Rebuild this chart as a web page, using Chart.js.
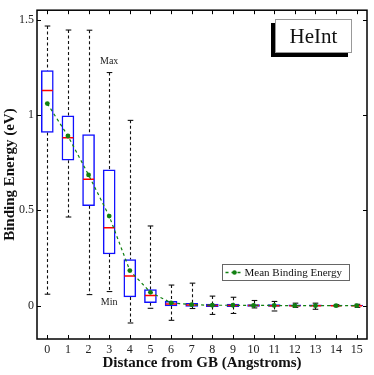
<!DOCTYPE html>
<html>
<head>
<meta charset="utf-8">
<script src="https://cdn.jsdelivr.net/npm/chart.js@4.4.1/dist/chart.umd.min.js"></script>
<style>
  body { margin: 0; background: #fff; }
  #wrap { position: relative; width: 374px; height: 375px; }
  #tag {
    position: absolute; left: 275px; top: 19px; width: 75px; height: 32px;
    border: 1px solid #999; background: #fff; box-shadow: -4px 4px 0 #000;
    font: 21px "Liberation Serif", serif; color: #111;
    display: flex; align-items: center; justify-content: center;
  }
</style>
</head>
<body>
<div id="wrap">
  <canvas id="chart" width="374" height="375"></canvas>
  <div id="tag">HeInt</div>
</div>
<script>
const distances = [0, 1, 2, 3, 4, 5, 6, 7, 8, 9, 10, 11, 12, 13, 14, 15];
const whiskerMax = [1.467, 1.446, 1.445, 1.223, 0.972, 0.418, 0.108, 0.118, 0.05, 0.044, 0.027, 0.022, 0.013, 0.013, 0.005, 0.007];
const whiskerMin = [0.06, 0.465, 0.058, 0.074, -0.091, -0.014, -0.077, -0.015, -0.046, -0.041, -0.012, -0.028, -0.009, -0.019, -0.005, -0.009];
const boxTop = [1.233, 0.996, 0.898, 0.713, 0.242, 0.084, 0.022, 0.012, 0.008, 0.008, 0.006, 0.006, 0.004, 0.004, 0.003, 0.003];
const boxBottom = [0.909, 0.763, 0.524, 0.271, 0.046, 0.015, -0.002, -0.004, -0.005, -0.005, -0.004, -0.004, -0.003, -0.003, -0.002, -0.002];
const medians = [1.129, 0.881, 0.663, 0.409, 0.156, 0.053, 0.008, 0.003, 0.001, 0.001, 0.001, 0, 0, 0, 0, 0];
const means = [1.06, 0.89, 0.686, 0.47, 0.184, 0.07, 0.015, 0.005, 0.002, 0.002, 0.001, 0.001, 0, 0, 0, 0];
const yTicks = [0, 0.5, 1, 1.5];
const annotatedIndex = 3;

const serif = '"Liberation Serif", "Times New Roman", serif';
const green = "#118011";

const boxPlotExtras = {
  id: "boxPlotExtras",
  beforeDatasetsDraw(chart) {
    const { ctx, scales: { x, y } } = chart;
    ctx.save();
    ctx.strokeStyle = "#111";
    ctx.lineWidth = 1.1;
    distances.forEach((d, i) => {
      const px = Math.round(x.getPixelForValue(d)) + 0.5;
      ctx.setLineDash([3, 2.5]);
      [[whiskerMax[i], boxTop[i]], [boxBottom[i], whiskerMin[i]]].forEach(([a, b]) => {
        ctx.beginPath();
        ctx.moveTo(px, y.getPixelForValue(a));
        ctx.lineTo(px, y.getPixelForValue(b));
        ctx.stroke();
      });
      ctx.setLineDash([]);
      [whiskerMax[i], whiskerMin[i]].forEach(v => {
        const py = y.getPixelForValue(v);
        ctx.beginPath();
        ctx.moveTo(px - 2.8, py);
        ctx.lineTo(px + 2.8, py);
        ctx.stroke();
      });
    });
    ctx.restore();
  },
  afterDraw(chart) {
    const { ctx, chartArea: a, scales: { x, y } } = chart;
    ctx.save();
    // frame
    ctx.strokeStyle = "#000";
    ctx.lineWidth = 1.5;
    ctx.strokeRect(a.left, a.top, a.right - a.left, a.bottom - a.top);
    // inward ticks
    ctx.lineWidth = 1;
    distances.forEach(d => {
      const px = Math.round(x.getPixelForValue(d)) + 0.5;
      ctx.beginPath();
      ctx.moveTo(px, a.bottom); ctx.lineTo(px, a.bottom - 4);
      ctx.moveTo(px, a.top); ctx.lineTo(px, a.top + 4);
      ctx.stroke();
    });
    yTicks.forEach(v => {
      const py = Math.round(y.getPixelForValue(v)) + 0.5;
      ctx.beginPath();
      ctx.moveTo(a.left, py); ctx.lineTo(a.left + 4, py);
      ctx.moveTo(a.right, py); ctx.lineTo(a.right - 4, py);
      ctx.stroke();
    });
    // Max / Min annotations
    const ax = x.getPixelForValue(distances[annotatedIndex]);
    ctx.fillStyle = "#222";
    ctx.font = "10px " + serif;
    ctx.textAlign = "center";
    ctx.textBaseline = "middle";
    ctx.fillText("Max", ax, y.getPixelForValue(whiskerMax[annotatedIndex]) - 11);
    ctx.fillText("Min", ax, y.getPixelForValue(whiskerMin[annotatedIndex]) + 11);
    // legend
    const lx = 222.5, ly = 264.5, lw = 127, lh = 16;
    ctx.fillStyle = "#fff";
    ctx.fillRect(lx, ly, lw, lh);
    ctx.strokeStyle = "#666";
    ctx.lineWidth = 1;
    ctx.strokeRect(lx, ly, lw, lh);
    const my = ly + lh / 2;
    ctx.strokeStyle = green;
    ctx.lineWidth = 1.3;
    ctx.setLineDash([3, 3]);
    ctx.beginPath();
    ctx.moveTo(lx + 3, my); ctx.lineTo(lx + 21, my);
    ctx.stroke();
    ctx.setLineDash([]);
    ctx.fillStyle = green;
    ctx.beginPath();
    ctx.arc(lx + 12, my, 2.3, 0, Math.PI * 2);
    ctx.fill();
    ctx.fillStyle = "#111";
    ctx.font = "11px " + serif;
    ctx.textAlign = "left";
    ctx.fillText(chart.data.datasets[2].label, lx + 22, my + 0.5);
    ctx.restore();
  }
};

new Chart(document.getElementById("chart"), {
  type: "bar",
  data: {
    datasets: [
      {
        label: "Quartiles",
        data: distances.map((d, i) => ({ x: d, y: [boxBottom[i], boxTop[i]] })),
        backgroundColor: "#fff",
        borderColor: "#1010ff",
        borderWidth: 1.5,
        borderSkipped: false,
        barThickness: 12,
        order: 3,
      },
      {
        type: "line",
        label: "Median",
        data: distances.map((d, i) => ({ x: d, y: medians[i] })),
        showLine: false,
        pointStyle: "line",
        pointRadius: 5.5,
        borderColor: "#ff0000",
        borderWidth: 1.5,
        order: 2,
      },
      {
        type: "line",
        label: "Mean Binding Energy",
        data: distances.map((d, i) => ({ x: d, y: means[i] })),
        borderColor: green,
        borderWidth: 1.2,
        borderDash: [3, 3],
        pointRadius: 2.4,
        pointBackgroundColor: green,
        pointBorderWidth: 0,
        tension: 0,
        order: 1,
      },
    ],
  },
  options: {
    responsive: false,
    animation: false,
    layout: { padding: { top: 5, right: 5, left: 0, bottom: 0 } },
    plugins: { legend: { display: false }, tooltip: { enabled: false } },
    scales: {
      x: {
        type: "linear",
        min: -0.5,
        max: 15.5,
        offset: false,
        grid: { display: false, drawTicks: false },
        border: { display: false },
        afterBuildTicks: scale => { scale.ticks = distances.map(v => ({ value: v })); },
        afterFit: scale => { scale.height = 36; },
        ticks: { color: "#222", padding: 4, font: { family: serif, size: 12 }, callback: v => String(v) },
        title: { display: true, text: "Distance from GB (Angstroms)", color: "#111", padding: 3, font: { family: serif, size: 15, weight: "bold" } },
      },
      y: {
        min: -0.175,
        max: 1.55,
        grid: { display: false, drawTicks: false },
        border: { display: false },
        afterBuildTicks: scale => { scale.ticks = yTicks.map(v => ({ value: v })); },
        afterFit: scale => { scale.width = 37; },
        ticks: { color: "#222", padding: 3, font: { family: serif, size: 12 }, callback: v => String(v) },
        title: { display: true, text: "Binding Energy (eV)", color: "#111", padding: { top: 1, bottom: 0 }, font: { family: serif, size: 15, weight: "bold" } },
      },
    },
  },
  plugins: [boxPlotExtras],
});
</script>
</body>
</html>
